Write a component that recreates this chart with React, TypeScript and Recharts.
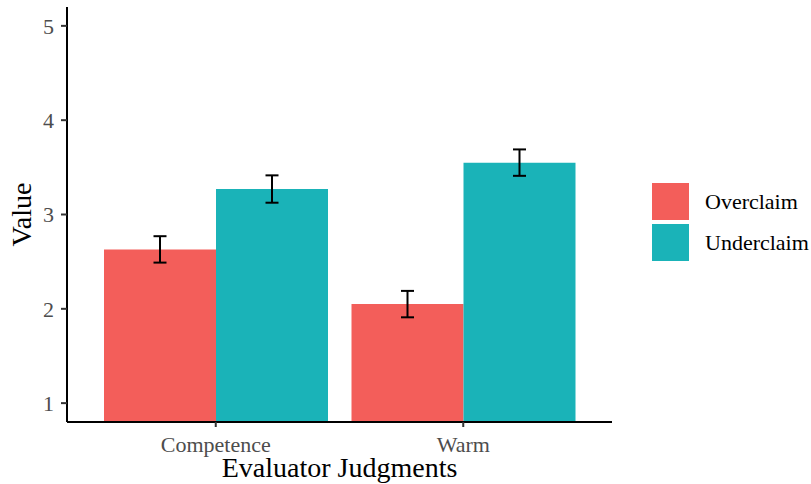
import { BarChart, Bar, XAxis, YAxis, ErrorBar, Legend, Label } from "recharts";

const judgments = ["Competence", "Warm"];
const overclaim = [2.63, 2.05];
const overclaimErr = [0.14, 0.14];
const underclaim = [3.27, 3.55];
const underclaimErr = [0.145, 0.14];
const yTicks = [1, 2, 3, 4, 5];

const RED = "#F35E5A";
const TEAL = "#1AB3B8";
const FONT = "'Liberation Serif', 'Times New Roman', serif";

const data = judgments.map((j, i) => ({
  judgment: j,
  Overclaim: overclaim[i],
  overErr: overclaimErr[i],
  Underclaim: underclaim[i],
  underErr: underclaimErr[i],
}));

const legendItems = [
  { name: "Overclaim", color: RED },
  { name: "Underclaim", color: TEAL },
];

function LegendBox() {
  return (
    <div style={{ fontFamily: FONT }}>
      {legendItems.map((it) => (
        <div key={it.name} style={{ display: "flex", alignItems: "center", height: 41 }}>
          <div style={{ width: 37, height: 37, background: it.color, marginRight: 16 }} />
          <span style={{ fontSize: 22, color: "#000" }}>{it.name}</span>
        </div>
      ))}
    </div>
  );
}

export default function App() {
  const tickStyle = { fontSize: 22, fill: "#4D4D4D", fontFamily: FONT };
  return (
    <div style={{ position: "absolute", left: 0, top: 0, background: "#fff" }}>
      <BarChart
        width={811}
        height={484}
        data={data}
        margin={{ top: 7, right: 199, left: 0, bottom: 0 }}
        barCategoryGap={12}
        barGap={0}
      >
        <XAxis
          dataKey="judgment"
          height={62}
          padding={{ left: 25, right: 25 }}
          tick={tickStyle}
          tickSize={5}
          tickMargin={9}
          axisLine={{ stroke: "#000", strokeWidth: 2 }}
          tickLine={{ stroke: "#333", strokeWidth: 2 }}
        >
          <Label
            value="Evaluator Judgments"
            position="insideBottom"
            offset={7}
            style={{ fontSize: 28, fill: "#000", fontFamily: FONT }}
          />
        </XAxis>
        <YAxis
          type="number"
          width={67}
          domain={[0.8, 5.2]}
          allowDataOverflow
          ticks={yTicks}
          tick={tickStyle}
          tickSize={6}
          tickMargin={7}
          axisLine={{ stroke: "#000", strokeWidth: 2 }}
          tickLine={{ stroke: "#333", strokeWidth: 2 }}
        >
          <Label
            value="Value"
            angle={-90}
            position="center"
            dx={-12}
            style={{ fontSize: 28, fill: "#000", fontFamily: FONT, textAnchor: "middle" }}
          />
        </YAxis>
        <Legend
          layout="horizontal"
          verticalAlign="middle"
          align="center"
          content={() => <LegendBox />}
          wrapperStyle={{ left: 652, top: 181, width: 159 }}
        />
        <Bar dataKey="Overclaim" fill={RED} isAnimationActive={false}>
          <ErrorBar dataKey="overErr" width={6.5} stroke="#000" strokeWidth={2} direction="y" />
        </Bar>
        <Bar dataKey="Underclaim" fill={TEAL} isAnimationActive={false}>
          <ErrorBar dataKey="underErr" width={6.5} stroke="#000" strokeWidth={2} direction="y" />
        </Bar>
      </BarChart>
    </div>
  );
}
